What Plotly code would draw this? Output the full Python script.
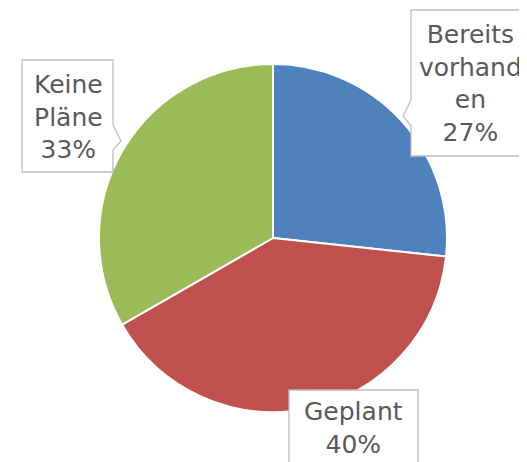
import plotly.graph_objects as go

# the page adds an 8px body margin, so the figure is drawn 8px smaller
OFF = 8
W, H = 527 - OFF, 462 - OFF

labels = ['Bereits vorhanden', 'Geplant', 'Keine Pläne']
label_lines = ['Bereits<br>vorhand<br>en', 'Geplant', 'Keine<br>Pläne']
values = [26.7, 40.0, 33.3]
colors = ['#4F81BD', '#C0504D', '#9BBB59']


def px_x(v):
    return (v - OFF) / W


def px_y(v):
    return 1 - (v - OFF) / H


def path(points):
    return 'M ' + ' L '.join(f'{px_x(x):.4f},{px_y(y):.4f}' for x, y in points) + ' Z'


fig = go.Figure(go.Pie(
    labels=labels,
    values=values,
    sort=False,
    direction='clockwise',
    rotation=0,
    marker=dict(colors=colors, line=dict(color='white', width=2)),
    textinfo='none',
    hoverinfo='label+percent',
    domain=dict(x=[px_x(99), px_x(447)], y=[px_y(412), px_y(64)]),
    showlegend=False,
))

# callout boxes (reference pixel coords of the outline incl. pointer)
callouts = [
    [(411, 10), (540, 10), (540, 156), (411, 156), (411, 126), (403, 116), (411, 100)],
    [(289, 390), (418, 390), (418, 480), (289, 480)],
    [(22, 60), (113, 60), (113, 125), (121, 141), (113, 150), (113, 172), (22, 172)],
]
# text centre positions (reference pixels)
text_pos = [(470, 84), (353, 428), (68, 117)]

shapes = []
for pts in callouts:
    shapes.append(dict(type='path', xref='paper', yref='paper', path=path(pts),
                       fillcolor='white', line=dict(color='#BFBFBF', width=1.3)))

total = sum(values)
annotations = []
for name, val, (tx, ty) in zip(label_lines, values, text_pos):
    annotations.append(dict(
        x=px_x(tx), y=px_y(ty), xref='paper', yref='paper',
        text=f'{name}<br>{round(val / total * 100)}%', showarrow=False,
        xanchor='center', yanchor='middle',
        font=dict(family='DejaVu Sans', size=25, color='#595959'),
    ))

fig.update_layout(
    width=W, height=H,
    margin=dict(l=0, r=0, t=0, b=0),
    paper_bgcolor='white', plot_bgcolor='white',
    shapes=shapes,
    annotations=annotations,
)

fig.write_html('out.html')
